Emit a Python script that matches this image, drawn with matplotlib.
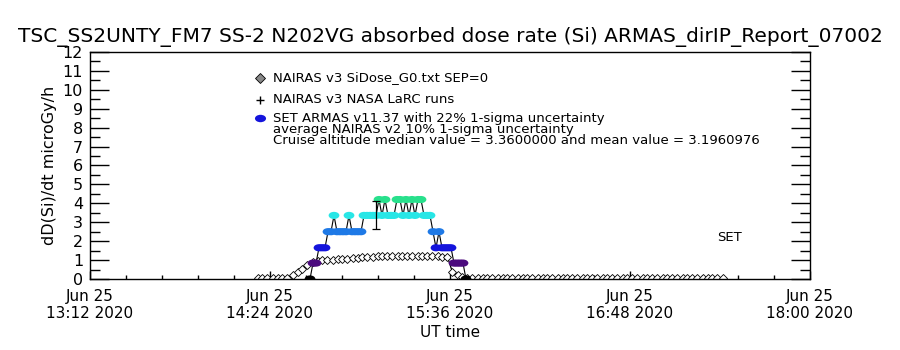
import numpy as np
import pandas as pd
import matplotlib
matplotlib.use('Agg')
import matplotlib.pyplot as plt
import matplotlib.dates as mdates
from matplotlib.path import Path
from matplotlib.transforms import Affine2D
from matplotlib.colors import LinearSegmentedColormap, Normalize
from matplotlib.lines import Line2D
from matplotlib.ticker import AutoMinorLocator, MultipleLocator

plt.rcParams['font.family'] = ['DejaVu Sans']

jour = '2020-06-25'

# NAIRAS v3 SiDose_G0 (toutes les 2 minutes, de 14:19 a 17:25)
nairas_debut = '14:19'
nairas_pas = '2min'
nairas_dose = [0.05, 0.05, 0.05, 0.05, 0.05, 0.05, 0.05,
               0.2, 0.38, 0.55, 0.72, 0.9,
               0.95, 0.98, 1.0, 1.02, 1.04, 1.06, 1.08, 1.1, 1.12, 1.14, 1.16, 1.18, 1.2,
               1.2, 1.21, 1.22, 1.22, 1.23, 1.22, 1.22, 1.21, 1.2, 1.2, 1.19, 1.19, 1.18,
               1.17, 0.35, 0.2, 0.08,
               0.05, 0.05, 0.05, 0.05, 0.05, 0.05, 0.05, 0.05, 0.05, 0.05, 0.05, 0.05, 0.05,
               0.05, 0.05, 0.05, 0.05, 0.05, 0.05, 0.05, 0.05, 0.05, 0.05, 0.05, 0.05, 0.05,
               0.05, 0.05, 0.05, 0.05, 0.05, 0.05, 0.05, 0.05, 0.05, 0.05, 0.05, 0.05, 0.05,
               0.05, 0.05, 0.05, 0.05, 0.05, 0.05, 0.05, 0.05, 0.05, 0.05, 0.05, 0.05, 0.05]

# SET ARMAS v11.37 (toutes les 72 s, de 14:40:00)
armas_debut = '14:40:00'
armas_pas = '72s'
armas_dose = [0, 0.84, 0.84, 1.65, 1.65, 1.65, 2.5, 2.5, 3.36, 2.5,
              2.5, 2.5, 2.5, 3.36, 2.5, 2.5, 2.5, 2.5, 3.36, 3.36,
              3.36, 3.36, 3.36, 4.2, 3.36, 4.2, 3.36, 3.36, 3.36, 4.2,
              4.2, 3.36, 4.2, 3.36, 4.2, 3.36, 4.2, 4.2, 3.36, 3.36,
              3.36, 2.5, 1.65, 2.5, 1.65, 1.65, 1.65, 1.65, 0.84, 0.84,
              0.84, 0.84, 0]

# barre d'erreur (mediane, 22 %)
err_heure = '15:06:24'
mediane = 3.36
incertitude = 0.22
moyenne = 3.1960976

xticks = ['13:12', '14:24', '15:36', '16:48', '18:00']
set_heure = '17:28'
set_y = 2.2

t_nairas = pd.date_range(f'{jour} {nairas_debut}', periods=len(nairas_dose), freq=nairas_pas)
t_armas = pd.date_range(f'{jour} {armas_debut}', periods=len(armas_dose), freq=armas_pas)
t_ticks = pd.to_datetime([f'{jour} {h}' for h in xticks])

fig = plt.figure(figsize=(9, 3.5), dpi=100)
ax = fig.add_axes([0.1, 0.2029, 0.8, 0.6486])

# courbe NAIRAS
ax.plot(t_nairas, nairas_dose, color='black', lw=0.9, marker='D', ms=4,
        mfc='white', mec='black', mew=0.6, zorder=2)

# ARMAS
couleurs = LinearSegmentedColormap.from_list('armas', [
    (0.0, 'black'), (0.2, '#4b0a7d'), (0.393, '#1414dc'),
    (0.595, '#1e78e6'), (0.8, '#28e6e6'), (1.0, '#28e08c')])
norme = Normalize(0, 4.2)
ellipse = Path.unit_circle().transformed(Affine2D().scale(1.5, 1.0))
ax.plot(t_armas, armas_dose, color='black', lw=0.8, zorder=3)
ax.scatter(t_armas, armas_dose, c=armas_dose, cmap=couleurs, norm=norme,
           marker=ellipse, s=60, linewidths=0, zorder=4)
ax.errorbar(pd.to_datetime(f'{jour} {err_heure}'), mediane, yerr=mediane * incertitude,
            color='black', lw=0.9, capsize=3, capthick=0.9, zorder=5)

ax.set_xlim(t_ticks[0], t_ticks[-1])
ax.set_ylim(0, 12)
ax.set_xticks(t_ticks)
ax.xaxis.set_major_formatter(mdates.DateFormatter('%b %d\n%H:%M %Y'))
ax.xaxis.set_minor_locator(AutoMinorLocator(5))
ax.yaxis.set_major_locator(MultipleLocator(1))
ax.yaxis.set_minor_locator(MultipleLocator(0.5))
ax.tick_params(axis='x', which='major', direction='in', length=6, width=1,
               top=False, labelsize=11, pad=7)
ax.tick_params(axis='x', which='minor', direction='in', length=3, width=1, top=False)
ax.tick_params(axis='y', which='major', direction='in', length=14, width=1,
               right=True, labelsize=11.5, pad=5)
ax.tick_params(axis='y', which='minor', direction='in', length=7, width=1, right=True)
for s in ax.spines.values():
    s.set_linewidth(1)

ax.set_ylabel('dD(Si)/dt microGy/h', fontsize=11.5, labelpad=4)
ax.set_xlabel('UT time', fontsize=11, labelpad=3)
fig.text(0.5, 1 - 37 / 350, 'TSC_SS2UNTY_FM7 SS-2 N202VG absorbed dose rate (Si) ARMAS_dirIP_Report_07002',
         ha='center', va='center', fontsize=14.5)
ax.text(pd.to_datetime(f'{jour} {set_heure}'), set_y, 'SET', ha='center', va='center', fontsize=9.5)

# legende
lx = 260 / 900
tx = 273 / 900
lignes = [78, 99, 118, 130, 141]
textes = ['NAIRAS v3 SiDose_G0.txt SEP=0',
          'NAIRAS v3 NASA LaRC runs',
          'SET ARMAS v11.37 with 22% 1-sigma uncertainty',
          'average NAIRAS v2 10% 1-sigma uncertainty',
          f'Cruise altitude median value = {mediane:.7f} and mean value = {moyenne:.7f}']
for y, txt in zip(lignes, textes):
    fig.text(tx, 1 - y / 350, txt, ha='left', va='center', fontsize=9.5)
fig.add_artist(Line2D([lx], [1 - 78 / 350], transform=fig.transFigure, marker='D', ms=5,
                      mfc='#888888', mec='black', mew=0.6, ls='none'))
fig.add_artist(Line2D([lx], [1 - 100 / 350], transform=fig.transFigure, marker='+', ms=6,
                      color='black', mew=1, ls='none'))
fig.add_artist(Line2D([lx], [1 - 118 / 350], transform=fig.transFigure, marker=ellipse, ms=8,
                      mfc='#1414dc', mec='none', ls='none'))

fig.savefig('out.png', dpi=100)
